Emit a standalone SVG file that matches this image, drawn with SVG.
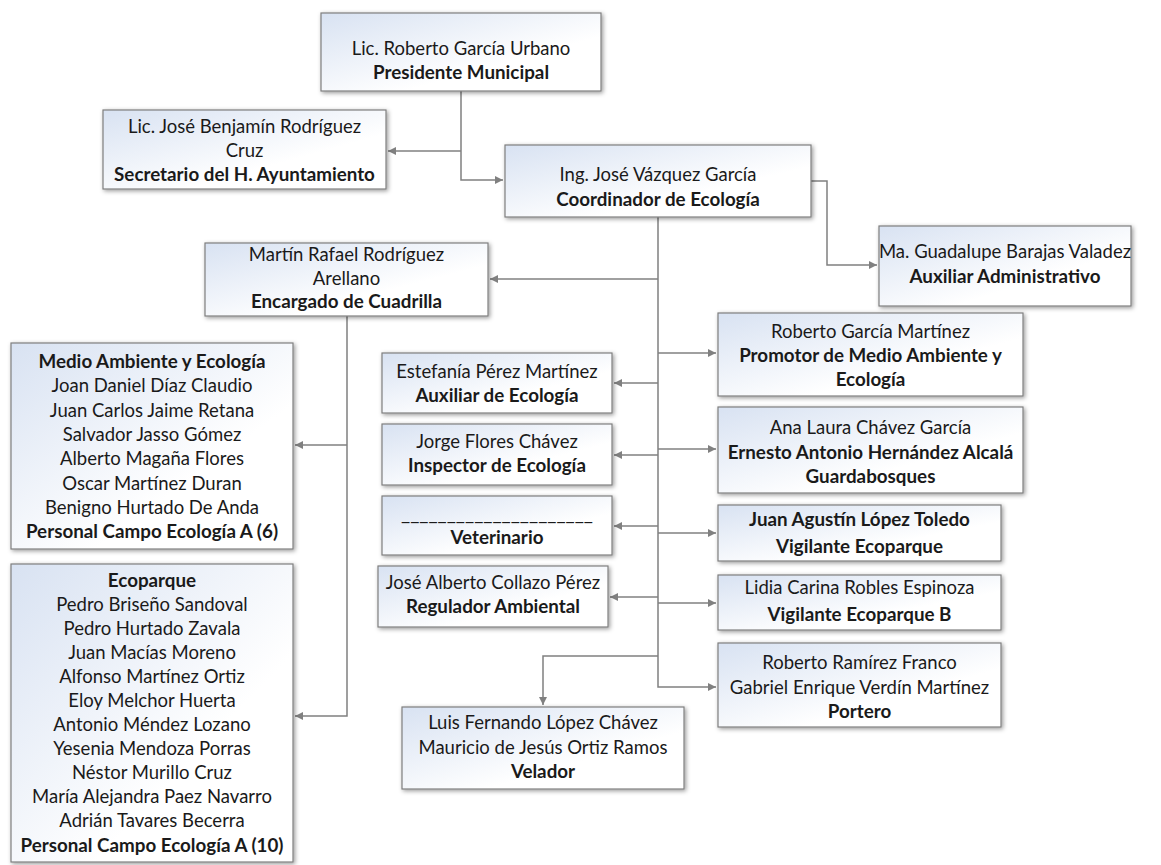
<svg xmlns="http://www.w3.org/2000/svg" width="1161" height="865" viewBox="0 0 1161 865">
<defs>
<linearGradient id="fillg" x1="0" y1="0" x2="1" y2="1">
<stop offset="0" stop-color="#d8e2f2"/>
<stop offset="0.65" stop-color="#ffffff"/>
<stop offset="1" stop-color="#ffffff"/>
</linearGradient>
<filter id="sh" x="-10%" y="-10%" width="125%" height="130%">
<feDropShadow dx="1.5" dy="1.5" stdDeviation="2" flood-color="#000" flood-opacity="0.4"/>
</filter>
<marker id="arr" viewBox="0 0 10 10" refX="10" refY="5" markerWidth="8" markerHeight="8" markerUnits="userSpaceOnUse" orient="auto">
<path d="M0,0 L10,5 L0,10 Z" fill="#808080"/>
</marker>
<style>
.box{fill:url(#fillg);stroke:#7f7f7f;stroke-width:1.2;filter:url(#sh)}
text{font-family:Lato,"Liberation Sans",sans-serif;font-size:18.5px;fill:#1a1a1a;text-anchor:middle}
.b{font-weight:bold;font-size:18.8px}
.c{fill:none;stroke:#808080;stroke-width:1.5}
</style>
</defs>
<g id="connectors">
<path class="c" d="M461,91 V180 H503" marker-end="url(#arr)"/>
<path class="c" d="M461,151 H388" marker-end="url(#arr)"/>
<path class="c" d="M811,181 H827 V265 H877" marker-end="url(#arr)"/>
<path class="c" d="M658,217 V687 H716" marker-end="url(#arr)"/>
<path class="c" d="M658,279 H490" marker-end="url(#arr)"/>
<path class="c" d="M658,353 H716" marker-end="url(#arr)"/>
<path class="c" d="M658,383 H614" marker-end="url(#arr)"/>
<path class="c" d="M658,449 H716" marker-end="url(#arr)"/>
<path class="c" d="M658,455 H614" marker-end="url(#arr)"/>
<path class="c" d="M658,526 H614" marker-end="url(#arr)"/>
<path class="c" d="M658,533 H716" marker-end="url(#arr)"/>
<path class="c" d="M658,597 H610" marker-end="url(#arr)"/>
<path class="c" d="M658,603 H716" marker-end="url(#arr)"/>
<path class="c" d="M658,656 H543 V705" marker-end="url(#arr)"/>
<path class="c" d="M347,316 V716 H295" marker-end="url(#arr)"/>
<path class="c" d="M347,445 H295" marker-end="url(#arr)"/>
</g>
<g id="presidente">
<rect class="box" x="321" y="13" width="280" height="78"/>
<text x="461" y="55">Lic. Roberto García Urbano</text>
<text class="b" x="461" y="79">Presidente Municipal</text>
</g>
<g id="secretario">
<rect class="box" x="103" y="110" width="283" height="79"/>
<text x="244.5" y="133">Lic. José Benjamín Rodríguez</text>
<text x="244.5" y="157">Cruz</text>
<text class="b" x="244.5" y="181">Secretario del H. Ayuntamiento</text>
</g>
<g id="coordinador">
<rect class="box" x="505" y="145" width="306" height="72"/>
<text x="658" y="181">Ing. José Vázquez García</text>
<text class="b" x="658" y="206">Coordinador de Ecología</text>
</g>
<g id="auxiliar-admin">
<rect class="box" x="879" y="226" width="252" height="80"/>
<text x="1005" y="258">Ma. Guadalupe Barajas Valadez</text>
<text class="b" x="1005" y="283">Auxiliar Administrativo</text>
</g>
<g id="encargado">
<rect class="box" x="205" y="243" width="283" height="73"/>
<text x="346.5" y="261">Martín Rafael Rodríguez</text>
<text x="346.5" y="285">Arellano</text>
<text class="b" x="346.5" y="308">Encargado de Cuadrilla</text>
</g>
<g id="medio-ambiente">
<rect class="box" x="11" y="343" width="282" height="206"/>
<text class="b" x="152" y="368">Medio Ambiente y Ecología</text>
<text x="152" y="392">Joan Daniel Díaz Claudio</text>
<text x="152" y="417">Juan Carlos Jaime Retana</text>
<text x="152" y="441">Salvador Jasso Gómez</text>
<text x="152" y="465">Alberto Magaña Flores</text>
<text x="152" y="490">Oscar Martínez Duran</text>
<text x="152" y="514">Benigno Hurtado De Anda</text>
<text class="b" x="152" y="538">Personal Campo Ecología A (6)</text>
</g>
<g id="ecoparque">
<rect class="box" x="11" y="564" width="282" height="298"/>
<text class="b" x="152" y="587">Ecoparque</text>
<text x="152" y="611">Pedro Briseño Sandoval</text>
<text x="152" y="635">Pedro Hurtado Zavala</text>
<text x="152" y="659">Juan Macías Moreno</text>
<text x="152" y="683">Alfonso Martínez Ortiz</text>
<text x="152" y="707">Eloy Melchor Huerta</text>
<text x="152" y="731">Antonio Méndez Lozano</text>
<text x="152" y="755">Yesenia Mendoza Porras</text>
<text x="152" y="779">Néstor Murillo Cruz</text>
<text x="152" y="803">María Alejandra Paez Navarro</text>
<text x="152" y="827">Adrián Tavares Becerra</text>
<text class="b" x="152" y="852">Personal Campo Ecología A (10)</text>
</g>
<g id="auxiliar-ecologia">
<rect class="box" x="382" y="353" width="230" height="60"/>
<text x="497" y="378">Estefanía Pérez Martínez</text>
<text class="b" x="497" y="402">Auxiliar de Ecología</text>
</g>
<g id="inspector">
<rect class="box" x="382" y="424" width="230" height="61"/>
<text x="497" y="448">Jorge Flores Chávez</text>
<text class="b" x="497" y="472">Inspector de Ecología</text>
</g>
<g id="veterinario">
<rect class="box" x="382" y="496" width="230" height="59"/>
<text x="497" y="520" textLength="192" lengthAdjust="spacingAndGlyphs">_____________________</text>
<text class="b" x="497" y="544">Veterinario</text>
</g>
<g id="regulador">
<rect class="box" x="378" y="566" width="230" height="61"/>
<text x="493" y="589">José Alberto Collazo Pérez</text>
<text class="b" x="493" y="613">Regulador Ambiental</text>
</g>
<g id="promotor">
<rect class="box" x="718" y="313" width="305" height="83"/>
<text x="870.5" y="338">Roberto García Martínez</text>
<text class="b" x="870.5" y="362">Promotor de Medio Ambiente y</text>
<text class="b" x="870.5" y="386">Ecología</text>
</g>
<g id="guardabosques">
<rect class="box" x="718" y="407" width="305" height="86"/>
<text x="870.5" y="434">Ana Laura Chávez García</text>
<text class="b" x="870.5" y="459">Ernesto Antonio Hernández Alcalá</text>
<text class="b" x="870.5" y="483">Guardabosques</text>
</g>
<g id="vigilante">
<rect class="box" x="718" y="505" width="283" height="56"/>
<text class="b" x="859.5" y="526">Juan Agustín López Toledo</text>
<text class="b" x="859.5" y="553">Vigilante Ecoparque</text>
</g>
<g id="vigilante-b">
<rect class="box" x="718" y="575" width="283" height="55"/>
<text x="859.5" y="594">Lidia Carina Robles Espinoza</text>
<text class="b" x="859.5" y="621">Vigilante Ecoparque B</text>
</g>
<g id="portero">
<rect class="box" x="718" y="643" width="283" height="84"/>
<text x="859.5" y="669">Roberto Ramírez Franco</text>
<text x="859.5" y="694">Gabriel Enrique Verdín Martínez</text>
<text class="b" x="859.5" y="718">Portero</text>
</g>
<g id="velador">
<rect class="box" x="402" y="707" width="282" height="82"/>
<text x="543" y="729">Luis Fernando López Chávez</text>
<text x="543" y="754">Mauricio de Jesús Ortiz Ramos</text>
<text class="b" x="543" y="778">Velador</text>
</g>
</svg>
